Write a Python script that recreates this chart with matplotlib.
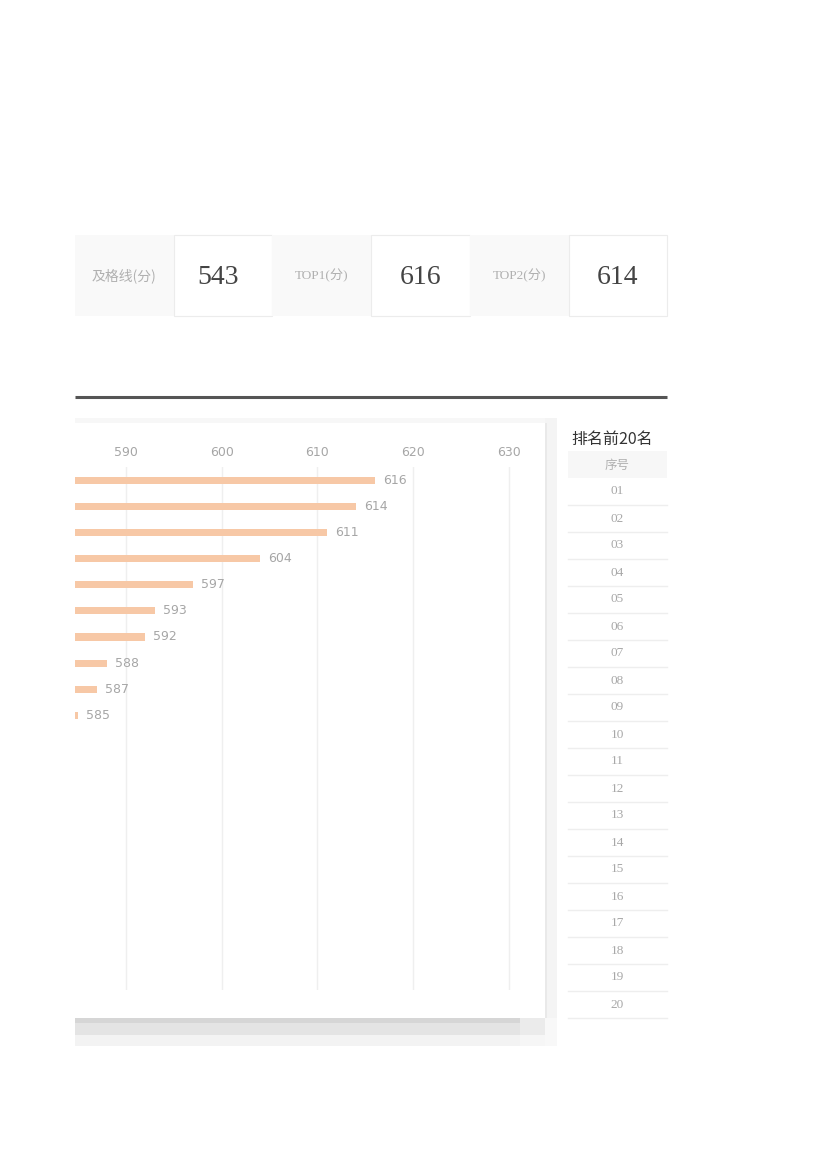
import numpy as np
import matplotlib.pyplot as plt
from matplotlib.patches import Rectangle

plt.rcParams['font.family'] = ['Liberation Serif', 'Noto Sans CJK SC', 'DejaVu Sans']

# KPI strip
kpi_labels = ['及格线(分)', 'TOP1(分)', 'TOP2(分)']
kpi_values = ['543', '616', '614']

# ranking chart
ranks = ['%02d' % i for i in range(1, 21)]
scores = [616, 614, 611, 604, 597, 593, 592, 588, 587, 585]
xticks = [590, 600, 610, 620, 630]

BAR = '#f7c8a6'
GRID = '#efefef'
LIGHT = '#a6a6a6'

fig = plt.figure(figsize=(8.27, 11.70), dpi=100)
bg = fig.add_axes([0, 0, 1, 1])
bg.set_xlim(0, 827)
bg.set_ylim(1170, 0)
bg.axis('off')


def box(x, y, w, h, fc, ec='none', lw=0, z=1):
    bg.add_patch(Rectangle((x, y), w, h, facecolor=fc, edgecolor=ec, linewidth=lw, zorder=z))


# top KPI cells
cw = 98.7
for i, (lab, val) in enumerate(zip(kpi_labels, kpi_values)):
    x0 = 75 + 2 * i * cw
    box(x0, 235, cw, 81, '#f9f9f9')
    box(x0 + cw, 235, cw, 81, 'white', '#ececec', 0.8)
    fam = ['Noto Sans CJK SC'] if i == 0 else ['Liberation Serif', 'Noto Sans CJK SC']
    bg.text(x0 + cw / 2, 276, lab, ha='center', va='center', fontsize=10 if i == 0 else 9.5,
            color='#b0b0b0', family=fam)
    bg.text(x0 + 1.5 * cw - (5 if i == 0 else 0), 278, val, ha='center', va='center',
            fontsize=20, color='#444444')

# divider line and band
bg.plot([75, 667], [396.8, 396.8], color='#555555', lw=2.2, solid_capstyle='butt')
box(75, 418, 482, 5, '#f7f7f7')

# chart panel with shadow
box(545, 418, 12, 600, '#f4f4f4')
box(545, 423, 1.5, 595, '#e9e9e9')
box(75, 1018, 445, 5, '#d6d6d6')
box(75, 1023, 445, 12, '#e4e4e4')
box(75, 1035, 445, 11, '#f3f3f3')
box(520, 1018, 25, 17, '#ebebeb')
box(520, 1035, 25, 11, '#f6f6f6')
box(545, 1018, 12, 28, '#f8f8f8')
box(75, 423, 470, 595, 'white', z=2)

# ranking table on the right
bg.text(571, 439, '排名前20名', ha='left', va='center', fontsize=11.5, color='#333333',
        family=['Noto Sans CJK SC'])
box(568, 451, 99, 27, '#f7f7f7')
bg.text(617.5, 465, '序号', ha='center', va='center', fontsize=9, color='#b0b0b0',
        family=['Noto Sans CJK SC'])
for i, r in enumerate(ranks):
    yc = 478 + 27 * i + 13.5
    bg.text(617.5, yc, r, ha='center', va='center', fontsize=9.5, color='#a8a8a8')
    bg.plot([568, 667], [478 + 27 * (i + 1)] * 2, color='#eeeeee', lw=1)

# bar chart
ax = fig.add_axes([75 / 827, 1 - 990 / 1170, 470 / 827, 523 / 1170])
ax.set_facecolor('none')
ax.set_zorder(3)
ypos = np.arange(len(scores))
ax.barh(ypos, scores, height=0.27, color=BAR, zorder=2)
for y, v in zip(ypos, scores):
    ax.text(v + 0.85, y, str(v), va='center', ha='left', fontsize=9, color=LIGHT,
            family=['DejaVu Sans'])
ax.set_xlim(584.67, 633.8)
ax.set_ylim(len(ranks) - 0.5, -0.5)
ax.set_xticks(xticks)
ax.xaxis.tick_top()
ax.tick_params(axis='x', length=0, pad=6, labelsize=9, labelcolor=LIGHT)
for lbl in ax.get_xticklabels():
    lbl.set_family('DejaVu Sans')
ax.set_yticks([])
ax.grid(axis='x', color=GRID, lw=1)
ax.set_axisbelow(True)
for s in ax.spines.values():
    s.set_visible(False)

fig.savefig('out.png', dpi=100)
